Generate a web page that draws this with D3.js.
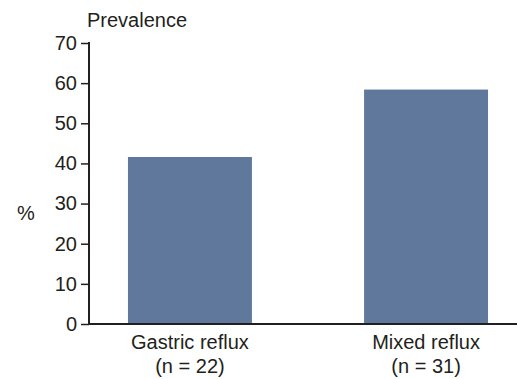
<!DOCTYPE html>
<html><head><meta charset="utf-8">
<script src="https://cdn.jsdelivr.net/npm/d3@7"></script>
<style>body{margin:0;background:#fff}svg{display:block}text{font-family:"Liberation Sans",Arial,sans-serif;fill:#231f20}</style>
</head><body><svg id="c" width="517" height="379"></svg>
<script>
const categories = ["Gastric reflux", "Mixed reflux"];
const sublabels = ["(n = 22)", "(n = 31)"];
const values = [41.6, 58.4];
const yTicks = [0, 10, 20, 30, 40, 50, 60, 70];

const svg = d3.select("#c");
const y = d3.scaleLinear().domain([0, 70]).range([324, 43]);
const x = d3.scaleBand().domain(categories).range([89, 527]).paddingInner(0.475).paddingOuter(0.165);

svg.selectAll("rect.bar").data(values).join("rect")
  .attr("class","bar")
  .attr("x",(d,i)=>x(categories[i]))
  .attr("width",x.bandwidth())
  .attr("y",d=>y(d))
  .attr("height",d=>y(0)-y(d))
  .attr("fill","#5f789b");

const yAxis = svg.append("g").attr("transform","translate(89,0)")
  .call(d3.axisLeft(y).tickValues(yTicks).tickSize(8).tickPadding(4).tickFormat(d3.format("d")));
yAxis.select(".domain").attr("stroke","#231f20").attr("stroke-width",2).attr("d","M0,42V325");
yAxis.selectAll(".tick line").attr("stroke","#231f20").attr("stroke-width",1.5);
yAxis.selectAll(".tick text").attr("font-size",20).attr("fill","#231f20").style("font-family","Liberation Sans, Arial, sans-serif");

svg.append("line").attr("x1",88).attr("x2",517).attr("y1",y(0)).attr("y2",y(0)).attr("stroke","#231f20").attr("stroke-width",2);

const xl = svg.append("g");
categories.forEach((c,i)=>{
  const cx = x(c)+x.bandwidth()/2;
  xl.append("text").attr("x",cx).attr("y",349).attr("text-anchor","middle").attr("font-size",20).text(c);
  xl.append("text").attr("x",cx).attr("y",373).attr("text-anchor","middle").attr("font-size",20).text(sublabels[i]);
});

svg.append("text").attr("x",87).attr("y",27).attr("font-size",20).text("Prevalence");
svg.append("text").attr("x",17).attr("y",220).attr("font-size",20).text("%");
</script></body></html>
